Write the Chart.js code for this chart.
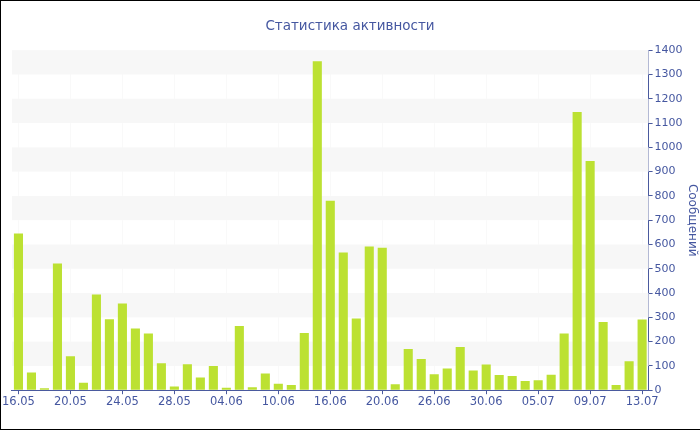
<!DOCTYPE html>
<html>
<head>
<meta charset="utf-8">
<script src="https://cdn.jsdelivr.net/npm/chart.js@4"></script>
<style>
  html, body { margin: 0; padding: 0; background: #fff; }
  #wrap {
    width: 700px; height: 430px; box-sizing: border-box;
    border: 1px solid #000; border-right: none;
  }
</style>
</head>
<body>
<div id="wrap"><canvas id="chartBar" width="699" height="428"></canvas></div>
<script>
// days with messages
const days = [
    '16.05', '17.05', '18.05', '19.05', '20.05', '21.05', '22.05', '23.05',
    '24.05', '25.05', '26.05', '27.05', '28.05', '29.05', '31.05', '02.06',
    '04.06', '05.06', '07.06', '08.06', '10.06', '12.06', '13.06', '15.06',
    '16.06', '17.06', '18.06', '19.06', '20.06', '22.06', '23.06', '25.06',
    '26.06', '27.06', '28.06', '29.06', '30.06', '01.07', '02.07', '04.07',
    '05.07', '06.07', '07.07', '08.07', '09.07', '10.07', '11.07', '12.07',
    '13.07',
];
const messages = [
    645, 73, 8, 522, 140, 31, 394, 292,
    357, 254, 233, 111, 15, 107, 52, 100,
    10, 264, 12, 69, 27, 21, 236, 1355,
    780, 567, 295, 592, 587, 25, 170, 128,
    66, 89, 178, 81, 106, 63, 58, 38,
    41, 64, 233, 1146, 944, 281, 21, 119,
    291,
];
const yMax = 1400;
const yStep = 100;

const textColor = '#4557a0';
const axisColor = '#4a5a9e';

// alternating light bands behind the bars
const bandsPlugin = {
    id: 'bands',
    beforeDatasetsDraw(chart) {
        const { ctx, chartArea, scales } = chart;
        const y = scales.y;
        ctx.save();
        ctx.fillStyle = '#f7f7f7';
        for (let v = yStep; v < yMax; v += 2 * yStep) {
            const top = y.getPixelForValue(v + yStep);
            const bottom = y.getPixelForValue(v);
            ctx.fillRect(chartArea.left, top, chartArea.right - chartArea.left, bottom - top);
        }
        ctx.restore();
    }
};

const data = {
    labels: days,
    datasets: [{
        label: 'Сообщений',
        backgroundColor: '#bce132',
        borderWidth: 0,
        barPercentage: 0.7,
        categoryPercentage: 1,
        data: messages,
    }]
};

const config = {
    type: 'bar',
    data,
    options: {
        responsive: false,
        animation: false,
        layout: { padding: { left: 0, right: 1, bottom: 19, top: 0 } },
        plugins: {
            legend: { display: false },
            tooltip: { enabled: false },
            title: {
                display: true,
                text: 'Статистика активности',
                color: textColor,
                font: { family: 'DejaVu Sans', size: 13.5, weight: 'normal' },
                padding: { top: 17, bottom: 16 }
            }
        },
        scales: {
            x: {
                grid: {
                    offset: false,
                    drawOnChartArea: true,
                    color: c => (c.index % 4 === 0 ? 'rgba(0,0,0,0.025)' : 'rgba(0,0,0,0)'),
                    tickColor: c => (c.index % 4 === 0 ? axisColor : 'rgba(0,0,0,0)'),
                    tickLength: 4
                },
                border: { color: axisColor, width: 1 },
                ticks: {
                    autoSkip: false,
                    maxRotation: 0,
                    color: textColor,
                    font: { family: 'DejaVu Sans', size: 11.5 },
                    padding: 1,
                    callback: (val, i) => (i % 4 === 0 ? days[i] : '')
                }
            },
            y: {
                position: 'right',
                min: 0,
                max: yMax,
                grid: { drawOnChartArea: false, tickLength: 4, tickColor: axisColor },
                border: { color: axisColor, width: 1 },
                ticks: {
                    stepSize: yStep,
                    color: textColor,
                    font: { family: 'DejaVu Sans', size: 11 },
                    padding: 2,
                    callback: v => String(v)
                },
                title: {
                    display: true,
                    text: 'Сообщений',
                    color: textColor,
                    font: { family: 'DejaVu Sans', size: 12 },
                    padding: 0
                }
            }
        }
    },
    plugins: [bandsPlugin]
};

var chartBar = new Chart(document.getElementById('chartBar'), config);
</script>
</body>
</html>
